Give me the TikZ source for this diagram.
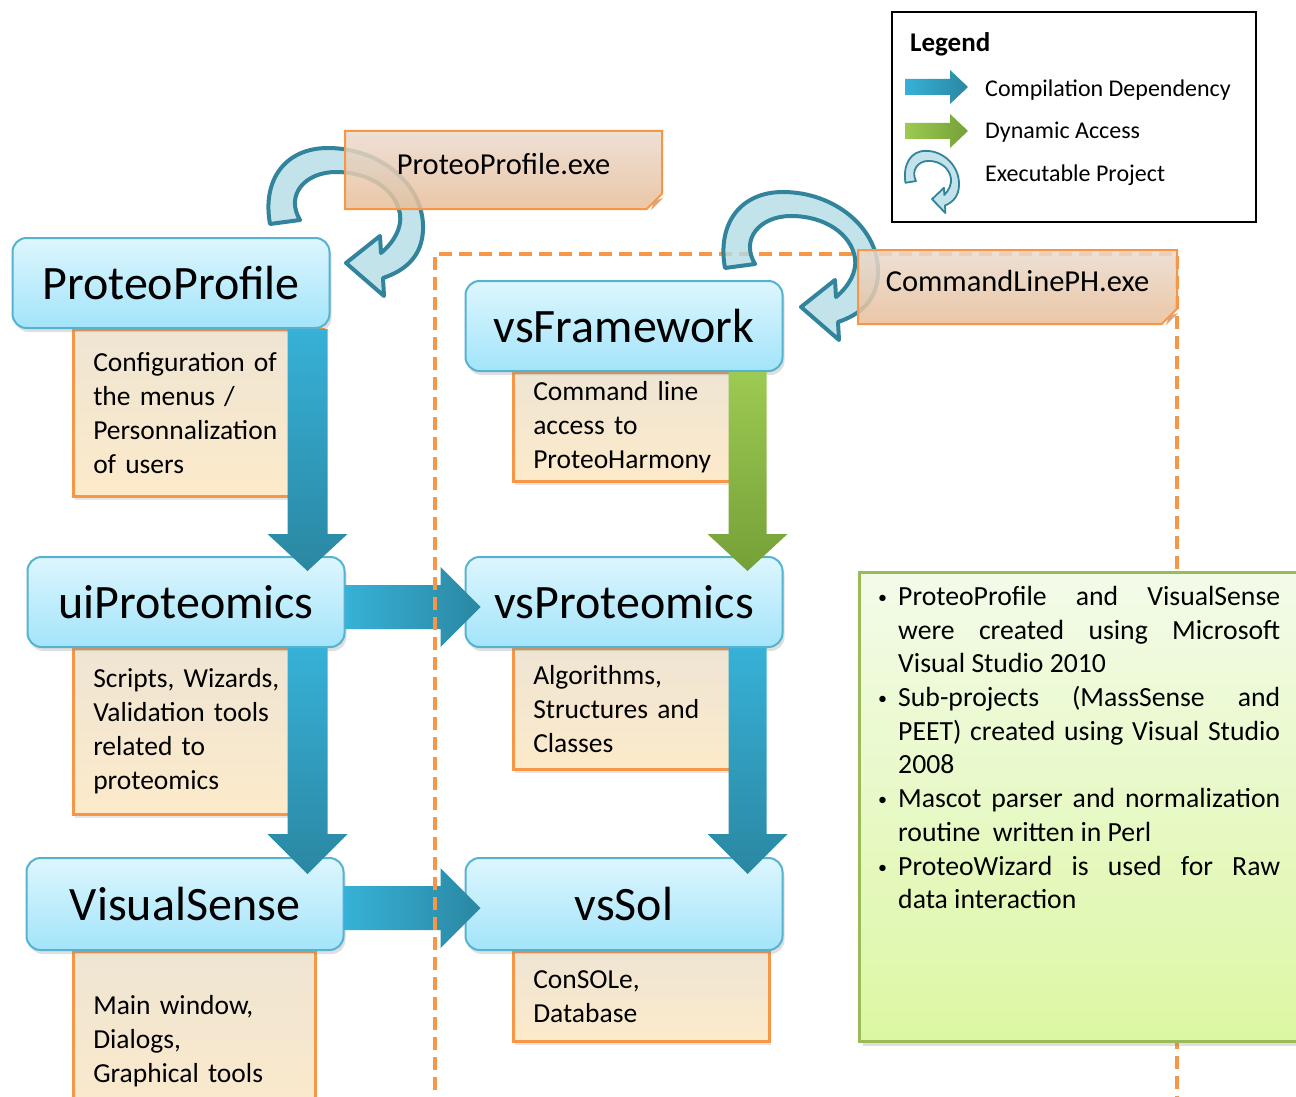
\documentclass[tikz,border=0pt]{standalone}
\usepackage{fontspec}
\setmainfont{Carlito}
\usetikzlibrary{calc,shadows,shapes.misc}
\definecolor{tborder}{HTML}{55B3D0}
\definecolor{ttop}{HTML}{DDF6FE}
\definecolor{tbot}{HTML}{A3E4FA}
\definecolor{orng}{HTML}{F79646}
\definecolor{dtop}{HTML}{EEE5D3}
\definecolor{dbot}{HTML}{FDEACA}
\definecolor{btop}{HTML}{37B1D7}
\definecolor{bbot}{HTML}{2A87A2}
\definecolor{gtop}{HTML}{9DCA52}
\definecolor{gbot}{HTML}{74A038}
\definecolor{ctfill}{HTML}{B4DCE7}
\definecolor{ctline}{HTML}{31849B}
\definecolor{etop}{HTML}{EADBCF}
\definecolor{ebot}{HTML}{E8BE98}
\definecolor{foldc}{HTML}{D9A47C}
\definecolor{ntop}{HTML}{F3FBE9}
\definecolor{nbot}{HTML}{DCF7A3}
\definecolor{nline}{HTML}{9BBB59}
\newcommand\fs[2]{\fontsize{#1}{#2}\selectfont}
% vertical block arrow: style, start, tip, half shaft, half head, head length
\newcommand\vblock[6]{\shade[#1] let \p1=(#2), \p2=(#3) in
 (\x1-#4,\y1) -- (\x1+#4,\y1) -- (\x1+#4,\y2+#6) -- (\x1+#5,\y2+#6) -- (\x1,\y2)
 -- (\x1-#5,\y2+#6) -- (\x1-#4,\y2+#6) -- cycle;}
% horizontal block arrow
\newcommand\hblock[6]{\shade[#1] let \p1=(#2), \p2=(#3) in
 (\x1,\y1+#4) -- (\x2-#6,\y1+#4) -- (\x2-#6,\y1+#5) -- (\x2,\y1) -- (\x2-#6,\y1-#5)
 -- (\x2-#6,\y1-#4) -- (\x1,\y1-#4) -- cycle;}
% executable (curved) arrow
\newcommand\execarrow[2]{\begin{scope}[#1]
\filldraw[ctline, fill=ctfill, fill opacity=0.8, line width=#2, line join=round]
 (270,224) .. controls (262,180) and (285,148) .. (328,148)
 .. controls (380,148) and (425,185) .. (423,230)
 .. controls (422,255) and (407,270) .. (383,278)
 -- (384,296) -- (346,263) -- (380,236) -- (381,253)
 .. controls (394,242) and (402,228) .. (400,214)
 .. controls (396,190) and (370,172) .. (336,172)
 .. controls (305,172) and (285,195) .. (300,220) -- cycle;
\end{scope}}
\tikzset{
 titlebox/.style={rounded corners=14pt, draw=tborder, line width=2pt, top color=ttop, bottom color=tbot,
   minimum width=317pt, minimum height=90pt, inner sep=0pt, font=\fs{48}{58},
   drop shadow={shadow xshift=2pt, shadow yshift=-4pt, opacity=0.25}},
 descbox/.style={draw=orng, line width=2.5pt, top color=dtop, bottom color=dbot, inner xsep=20pt,
   inner ysep=0pt, align=left, anchor=north west, font=\fs{27.5}{34},
   drop shadow={shadow xshift=2pt, shadow yshift=-4pt, opacity=0.2}},
 exebox/.style={chamfered rectangle, chamfered rectangle corners=south east, chamfered rectangle xsep=12pt,
   draw=orng, line width=2pt, top color=etop, bottom color=ebot, fill opacity=0.85, text opacity=1,
   font=\fs{30.5}{36}, inner sep=0pt, text depth=12pt},
 notebox/.style={draw=nline, line width=3pt, top color=ntop, bottom color=nbot, anchor=north west,
   drop shadow={shadow xshift=3pt, shadow yshift=-4pt, opacity=0.25}},
 blueV/.style={top color=btop, bottom color=bbot},
 greenV/.style={top color=gtop, bottom color=gbot},
 blueH/.style={left color=btop, right color=bbot},
 greenH/.style={left color=gtop, right color=gbot},
}
\begin{document}
\begin{tikzpicture}[x=1pt,y=-1pt]
\clip (0,0) rectangle (1296,1097);
\fill[white] (0,0) rectangle (1296,1097);

% description boxes
\node[descbox, text width=210pt, minimum height=167pt] (d1) at (72,328) {Configuration of\\the menus /\\Personnalization\\of users};
\node[descbox, text width=210pt, minimum height=166pt] (d2) at (72,647) {Scripts, Wizards,\\Validation tools\\related to\\proteomics};
\node[descbox, text width=202pt, minimum height=180pt] (d3) at (72,950) {Main window,\\Dialogs,\\Graphical tools};
\node[descbox, text width=208pt, minimum height=109pt] (d4) at (512,371) {Command line\\access to\\ProteoHarmony};
\node[descbox, text width=208pt, minimum height=121pt] (d5) at (512,647) {Algorithms,\\Structures and\\Classes};
\node[descbox, text width=216pt, minimum height=90pt] (d6) at (512,950) {ConSOLe,\\Database};

% project boxes
\node[titlebox] (pp) at (171,283) {ProteoProfile};
\node[titlebox] (ui) at (186,602) {uiProteomics};
\node[titlebox, minimum height=92pt] (vs) at (185,904) {VisualSense};
\node[titlebox] (vf) at (624,326) {vsFramework};
\node[titlebox] (vp) at (624,602) {vsProteomics};
\node[titlebox, minimum height=92pt] (vsol) at (624,904) {vsSol};

% block arrows
\coordinate (a1s) at ($(pp.south east)+(-23,0)$);
\coordinate (a1t) at ($(a1s |- ui.north)+(0,15)$);
\coordinate (a2s) at ($(ui.south east)+(-38,0)$);
\coordinate (a2t) at ($(a2s |- vs.north)+(0,17)$);
\coordinate (g1s) at ($(vf.south east)+(-36,0)$);
\coordinate (g1t) at ($(g1s |- vp.north)+(0,15)$);
\coordinate (a3s) at ($(vp.south east)+(-36,0)$);
\coordinate (a3t) at ($(a3s |- vsol.north)+(0,17)$);
\coordinate (h1s) at ($(ui.east)+(0,5)$);
\coordinate (h1t) at ($(vp.west)+(16,5)$);
\coordinate (h2s) at ($(vs.east)+(0,4)$);
\coordinate (h2t) at ($(vsol.west)+(16,4)$);
\vblock{blueV}{a1s}{a1t}{20pt}{40pt}{37pt}
\vblock{blueV}{a2s}{a2t}{20pt}{40pt}{40pt}
\vblock{greenV}{g1s}{g1t}{19pt}{40pt}{37pt}
\vblock{blueV}{a3s}{a3t}{19pt}{40pt}{40pt}
\hblock{blueH}{h1s}{h1t}{22pt}{40pt}{40pt}
\hblock{blueH}{h2s}{h2t}{22pt}{40pt}{40pt}

% dashed container
\draw[orng, line width=4pt, dash pattern=on 13pt off 7pt] (435,1110) -- (435,254) -- (1177,254) -- (1177,1110);

% executable arrows
\execarrow{}{4pt}
\execarrow{shift={(455,44)}}{4pt}

% executable labels
\node[exebox, minimum width=317pt, minimum height=78pt] (pexe) at (503.5,170) {ProteoProfile.exe};
\fill[foldc] ($(pexe.east |- pexe.south)+(0,-12)$) -- ($(pexe.east |- pexe.south)+(-12,0)$) -- ($(pexe.east |- pexe.south)+(-9,-9)$) -- cycle;
\node[exebox, minimum width=319pt, minimum height=74pt] (cexe) at (1017.5,287) {CommandLinePH.exe};
\fill[foldc] ($(cexe.east |- cexe.south)+(0,-12)$) -- ($(cexe.east |- cexe.south)+(-12,0)$) -- ($(cexe.east |- cexe.south)+(-9,-9)$) -- cycle;

% notes
\node[notebox, minimum width=460pt, minimum height=469pt] (notes) at (858,571) {};
\newcommand\bul{\makebox[20pt][l]{\raisebox{2pt}{\fs{18}{18}\textbullet}}}
\newcommand\ind{\makebox[20pt]{}}
\node[anchor=north west, inner sep=0pt, align=left, font=\fs{27.7}{33.7}] (notestext) at (878,586) {%
\bul\makebox[382pt][s]{ProteoProfile and VisualSense}\\
\ind\makebox[382pt][s]{were created using Microsoft}\\
\ind Visual Studio 2010\\
\bul\makebox[382pt][s]{Sub-projects (MassSense and}\\
\ind\makebox[382pt][s]{PEET) created using Visual Studio}\\
\ind 2008\\
\bul\makebox[382pt][s]{Mascot parser and normalization}\\
\ind routine\ \ written in Perl\\
\bul\makebox[382pt][s]{ProteoWizard is used for Raw}\\
\ind data interaction};

% legend
\node[draw=black, line width=2pt, fill=white, minimum width=364pt, minimum height=210pt, anchor=north west, inner sep=0pt] (legend) at (891,11) {};
\node[anchor=base west, inner sep=0pt, font=\bfseries\fs{27}{30}] (legtitle) at (910,52) {Legend};
\coordinate (lb1) at (905,87);
\coordinate (lb1t) at (968,87);
\coordinate (lg1) at (905,131);
\coordinate (lg1t) at (968,131);
\hblock{blueH}{lb1}{lb1t}{8pt}{17pt}{18pt}
\hblock{greenH}{lg1}{lg1t}{8pt}{17pt}{18pt}
\execarrow{shift={(903,150)}, xscale=0.35, yscale=0.42, shift={(-263,-146)}}{1.8pt}
\node[anchor=base west, inner sep=0pt, font=\fs{24}{28}] (lt1) at (985,97) {Compilation Dependency};
\node[anchor=base west, inner sep=0pt, font=\fs{24}{28}] (lt2) at (985,139) {Dynamic Access};
\node[anchor=base west, inner sep=0pt, font=\fs{24}{28}] (lt3) at (985,182) {Executable Project};
\end{tikzpicture}
\end{document}
